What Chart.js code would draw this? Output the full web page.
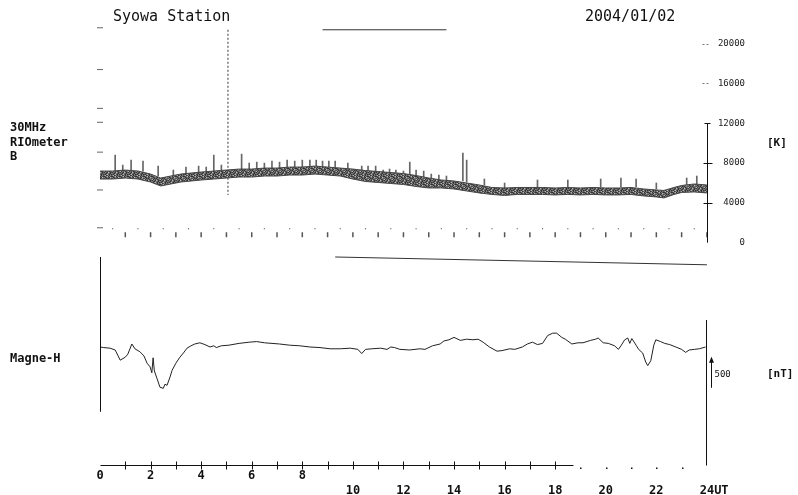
<!DOCTYPE html>
<html>
<head>
<meta charset="utf-8">
<script src="https://cdn.jsdelivr.net/npm/chart.js@4.4.1/dist/chart.umd.min.js"></script>
<style>
  html, body { margin: 0; padding: 0; background: #fff; overflow: hidden; }
</style>
</head>
<body>
<canvas id="myChart" width="798" height="495"></canvas>
<script>
// riometer band (K), read every half hour or so
const rioHours = [0, 0.5, 1, 1.5, 2, 2.4, 2.8, 3.2, 3.6, 4, 4.5, 5, 5.5, 6, 6.5, 7, 7.5, 8, 8.5, 9, 9.5, 10, 10.5, 11, 11.5, 12, 12.5, 13, 13.5, 14, 14.5, 15, 15.5, 16, 16.5, 17, 17.5, 18, 18.5, 19, 19.5, 20, 20.5, 21, 21.5, 22, 22.3, 22.7, 23, 23.5, 24];
const rioUpper = [7200, 7200, 7300, 7200, 6900, 6500, 6700, 6900, 7000, 7100, 7200, 7300, 7400, 7400, 7500, 7500, 7600, 7600, 7700, 7600, 7500, 7400, 7250, 7150, 7050, 6950, 6750, 6500, 6300, 6200, 6000, 5800, 5550, 5500, 5550, 5550, 5550, 5500, 5550, 5500, 5550, 5500, 5500, 5550, 5400, 5300, 5250, 5550, 5750, 5900, 5800];
const rioLower = [6400, 6400, 6500, 6400, 6100, 5700, 5900, 6100, 6200, 6300, 6400, 6500, 6600, 6600, 6700, 6700, 6800, 6800, 6900, 6800, 6700, 6400, 6150, 6050, 5950, 5850, 5650, 5500, 5500, 5400, 5200, 5000, 4850, 4750, 4850, 4850, 4850, 4800, 4850, 4800, 4850, 4800, 4800, 4850, 4700, 4600, 4500, 4850, 5050, 5100, 5000];

// short upward excursions on the riometer trace
const spikeHours = [0.6, 0.9, 1.23, 1.7, 2.3, 2.9, 3.4, 3.9, 4.2, 4.5, 4.8, 5.6, 5.9, 6.2, 6.5, 6.8, 7.1, 7.4, 7.7, 8.0, 8.3, 8.55, 8.8, 9.05, 9.3, 9.8, 10.35, 10.6, 10.9, 11.2, 11.45, 11.7, 12.0, 12.25, 12.5, 12.8, 13.1, 13.4, 13.7, 14.35, 14.5, 15.2, 16.0, 17.3, 18.5, 19.8, 20.6, 21.2, 22.0, 23.2, 23.6];
const spikeBases = [7200, 7200, 7300, 7200, 6700, 6700, 6900, 7000, 7100, 7200, 7300, 7400, 7400, 7400, 7500, 7500, 7500, 7600, 7600, 7600, 7700, 7700, 7700, 7600, 7600, 7500, 7300, 7200, 7100, 7100, 7000, 7000, 6900, 6900, 6700, 6600, 6500, 6400, 6300, 6200, 6100, 5800, 5500, 5600, 5600, 5600, 5600, 5600, 5400, 5800, 5900];
const spikeTops = [8800, 7800, 8300, 8200, 7700, 7300, 7600, 7700, 7600, 8800, 7800, 8900, 8000, 8100, 8000, 8200, 8100, 8300, 8200, 8300, 8300, 8300, 8200, 8200, 8200, 8000, 7700, 7700, 7700, 7300, 7400, 7300, 7200, 8100, 7300, 7200, 6900, 6800, 6700, 9000, 8300, 6400, 6000, 6300, 6300, 6400, 6500, 6400, 6000, 6500, 6700];

// calibration pen stroke near 05 UT
const calHour = 5.06;
const calRange = [21400, 4800];

// trace running along the top edge of the upper panel
const topTraceHours = [8.8, 13.7];
const topTraceValues = [21400, 21400];

// Magne-H, deviation in nT
const magHours = [0, 0.15, 0.4, 0.6, 0.8, 1.0, 1.1, 1.26, 1.38, 1.58, 1.74, 1.86, 1.98, 2.05, 2.1, 2.15, 2.25, 2.37, 2.5, 2.57, 2.65, 2.77, 2.85, 3.0, 3.16, 3.3, 3.44, 3.6, 3.75, 3.95, 4.15, 4.35, 4.5, 4.6, 4.8, 5.1, 5.5, 5.9, 6.2, 6.5, 7.1, 7.5, 7.9, 8.3, 8.7, 9.1, 9.5, 9.9, 10.2, 10.35, 10.5, 10.75, 11.1, 11.35, 11.5, 11.65, 11.86, 12.25, 12.65, 12.85, 13.15, 13.45, 13.6, 13.8, 14.0, 14.25, 14.5, 14.75, 14.95, 15.15, 15.4, 15.7, 15.9, 16.2, 16.4, 16.7, 16.9, 17.1, 17.3, 17.5, 17.7, 17.9, 18.06, 18.26, 18.4, 18.66, 18.9, 19.1, 19.4, 19.6, 19.7, 19.9, 20.1, 20.35, 20.5, 20.6, 20.75, 20.87, 20.95, 21.03, 21.2, 21.3, 21.46, 21.58, 21.66, 21.78, 21.9, 21.98, 22.17, 22.33, 22.53, 22.77, 23.0, 23.16, 23.3, 23.5, 23.7, 23.95];
const magValues = [0, -10, -20, -50, -220, -170, -120, 50, -30, -80, -150, -270, -330, -430, -180, -400, -520, -670, -690, -620, -640, -500, -390, -270, -170, -100, -20, 20, 50, 70, 40, 0, 20, -10, 20, 30, 60, 80, 90, 70, 50, 30, 20, 0, -10, -30, -30, -20, -40, -110, -40, -30, -20, -40, 0, -10, -40, -50, -30, -40, 20, 50, 100, 120, 160, 110, 130, 120, 130, 80, 0, -70, -60, -30, -40, 0, 50, 80, 40, 60, 190, 230, 230, 160, 130, 50, 70, 70, 110, 130, 150, 70, 60, 20, -40, 20, 120, 150, 60, 140, 30, -40, -100, -250, -310, -230, 30, 120, 90, 60, 40, 0, -40, -90, -50, -40, -30, 0];

// trace along the top edge of the lower panel
const magTopHours = [9.3, 24];
const magTopValues = [1500, 1370];

// hour marks along the bottom of the riometer panel
const hourMarkHours = [1, 2, 3, 4, 5, 6, 7, 8, 9, 10, 11, 12, 13, 14, 15, 16, 17, 18, 19, 20, 21, 22, 23, 24];
const halfMarkHours = [0.5, 1.5, 2.5, 3.5, 4.5, 5.5, 6.5, 7.5, 8.5, 9.5, 10.5, 11.5, 12.5, 13.5, 14.5, 15.5, 16.5, 17.5, 18.5, 19.5, 20.5, 21.5, 22.5, 23.5];
const hourMarkLevel = 800;
const halfMarkLevel = 1400;

// dash marks on the left edge of the riometer panel
const leftMarkValues = [21600, 17400, 13500, 12100, 9100, 5300, 1500];

const rioTicks = [0, 4000, 8000, 12000, 16000, 20000];
const scaleBar = { base: -680, size: 500 };

const pts = (xs, ys) => xs.map((h, i) => ({ x: h, y: ys[i] }));

// grainy fill like the pen ink of the recorder
const grainRows = [
  'Dd.lD.dD',
  '.Dd.dDl.',
  'd.DdD..d',
  'lD.d.Dd.',
  'D.dDl.Dd',
  '.dD..dD.',
  'dD.ldD.D',
  '.lDd.D.d'
];
const grainCols = { D: '#333333', d: '#555555', '.': '#7c7c7c', l: '#b8b8b8' };
const tex = document.createElement('canvas');
tex.width = 8; tex.height = 8;
const tctx = tex.getContext('2d');
grainRows.forEach((row, j) => row.split('').forEach((c, i) => {
  tctx.fillStyle = grainCols[c];
  tctx.fillRect(i, j, 1, 1);
}));
const grain = tctx.createPattern(tex, 'repeat');

const MONO = '"DejaVu Sans Mono", "Liberation Mono", monospace';

const decor = {
  id: 'decor',
  afterDatasetsDraw(chart) {
    const { ctx, chartArea: area, scales: { x, yR, yM } } = chart;
    const px = v => Math.round(x.getPixelForValue(v)) + 0.5;
    const b = Math.round(area.bottom) + 0.5;
    ctx.save();
    ctx.strokeStyle = '#111';
    ctx.fillStyle = '#111';
    ctx.lineWidth = 1;

    // time axis
    ctx.beginPath();
    ctx.moveTo(px(0), b); ctx.lineTo(px(18.7), b);
    for (let h = 1; h <= 18; h++) { ctx.moveTo(px(h), b - 4); ctx.lineTo(px(h), b + 4); }
    ctx.stroke();
    for (let h = 19; h <= 23; h++) ctx.fillRect(px(h) - 0.5, b + 2, 1.5, 1.5);

    // riometer scale line and marks
    const X24 = px(24);
    ctx.beginPath();
    ctx.moveTo(X24, yR.getPixelForValue(12000)); ctx.lineTo(X24, yR.getPixelForValue(0));
    [4000, 8000].forEach(v => { const y = Math.round(yR.getPixelForValue(v)) + 0.5; ctx.moveTo(X24 - 4, y); ctx.lineTo(X24 + 5, y); });
    const y12 = Math.round(yR.getPixelForValue(12000)) + 0.5;
    ctx.moveTo(X24 - 3, y12); ctx.lineTo(X24 + 3, y12);
    ctx.stroke();
    ctx.strokeStyle = '#777';
    ctx.beginPath();
    [16000, 20000].forEach(v => { const y = Math.round(yR.getPixelForValue(v)) + 0.5; ctx.moveTo(X24 - 5, y); ctx.lineTo(X24 - 3, y); ctx.moveTo(X24 - 1, y); ctx.lineTo(X24 + 1, y); });
    ctx.stroke();

    // magnetometer frame lines
    ctx.strokeStyle = '#111';
    ctx.beginPath();
    ctx.moveTo(px(0), yM.getPixelForValue(1500)); ctx.lineTo(px(0), yM.getPixelForValue(-1080));
    ctx.moveTo(X24 - 1, yM.getPixelForValue(450)); ctx.lineTo(X24 - 1, b);
    ctx.stroke();

    // 500 nT scale arrow
    const ax = X24 + 4;
    const ya = yM.getPixelForValue(scaleBar.base), yb = yM.getPixelForValue(scaleBar.base + scaleBar.size);
    ctx.beginPath(); ctx.moveTo(ax, ya); ctx.lineTo(ax, yb); ctx.stroke();
    ctx.beginPath(); ctx.moveTo(ax, yb - 1); ctx.lineTo(ax - 2.5, yb + 5); ctx.lineTo(ax + 2.5, yb + 5); ctx.closePath(); ctx.fill();

    // texts
    ctx.textBaseline = 'middle';
    ctx.textAlign = 'left';
    ctx.font = '15px ' + MONO;
    ctx.fillText('Syowa Station', 113, 17);
    ctx.fillText('2004/01/02', 585, 17);
    ctx.font = 'bold 12px ' + MONO;
    ctx.fillText('30MHz', 10, 128);
    ctx.fillText('RIOmeter', 10, 143);
    ctx.fillText('B', 10, 157);
    ctx.fillText('Magne-H', 10, 359);
    ctx.font = 'bold 11px ' + MONO;
    ctx.fillText('[K]', 767, 143);
    ctx.fillText('[nT]', 767, 374);
    ctx.font = '9px ' + MONO;
    ctx.fillText('500', ax + 3, (ya + yb) / 2 + 2);
    ctx.restore();
  }
};

const ctx = document.getElementById('myChart').getContext('2d');
const myChart = new Chart(ctx, {
  type: 'line',
  data: {
    datasets: [
      {
        label: 'rio low',
        data: pts(rioHours, rioLower),
        yAxisID: 'yR',
        borderColor: '#444', borderWidth: 1, pointRadius: 0, fill: false
      },
      {
        label: 'rio high',
        data: pts(rioHours, rioUpper),
        yAxisID: 'yR',
        borderColor: '#444', borderWidth: 1, pointRadius: 0,
        fill: '-1', backgroundColor: grain
      },
      {
        type: 'bar',
        label: 'spikes',
        data: spikeHours.map((h, i) => ({ x: h, y: [spikeBases[i], spikeTops[i]] })),
        yAxisID: 'yR',
        backgroundColor: '#666', barThickness: 1, borderWidth: 0
      },
      {
        label: 'cal',
        data: [{ x: calHour, y: calRange[0] }, { x: calHour, y: calRange[1] }],
        yAxisID: 'yR',
        borderColor: '#333', borderWidth: 1, borderDash: [2, 2], pointRadius: 0
      },
      {
        label: 'top trace',
        data: pts(topTraceHours, topTraceValues),
        yAxisID: 'yR',
        borderColor: '#333', borderWidth: 1, pointRadius: 0
      },
      {
        type: 'scatter',
        label: 'hour marks',
        data: hourMarkHours.map(h => ({ x: h, y: hourMarkLevel })),
        yAxisID: 'yR',
        pointStyle: 'line', rotation: 90, pointRadius: 2.5, borderColor: '#555', borderWidth: 1.5,
        clip: false
      },
      {
        type: 'scatter',
        label: 'half marks',
        data: halfMarkHours.map(h => ({ x: h, y: halfMarkLevel })),
        yAxisID: 'yR',
        pointStyle: 'rect', pointRadius: 0.8, backgroundColor: '#555', borderWidth: 0,
        clip: false
      },
      {
        type: 'scatter',
        label: 'left marks',
        data: leftMarkValues.map(v => ({ x: 0, y: v })),
        yAxisID: 'yR',
        pointStyle: 'line', pointRadius: 3, borderColor: '#666', borderWidth: 1,
        clip: false
      },
      {
        label: 'Magne-H',
        data: pts(magHours, magValues),
        yAxisID: 'yM',
        borderColor: '#222', borderWidth: 1, pointRadius: 0, tension: 0
      },
      {
        label: 'mag top trace',
        data: pts(magTopHours, magTopValues),
        yAxisID: 'yM',
        borderColor: '#333', borderWidth: 1, pointRadius: 0
      }
    ]
  },
  options: {
    responsive: false,
    animation: false,
    events: [],
    layout: { padding: { left: 100, right: 53, top: 11, bottom: 0 } },
    plugins: { legend: { display: false }, tooltip: { enabled: false } },
    scales: {
      x: {
        type: 'linear', min: 0, max: 24, offset: false,
        grid: { display: false, drawTicks: false },
        border: { display: false },
        ticks: {
          stepSize: 1, autoSkip: false, maxRotation: 0, padding: 0,
          color: '#111',
          font: { family: MONO, size: 12, weight: 'bold', lineHeight: '7.5px' },
          callback: v => {
            if (v % 2) return '';
            if (v < 10) return ['', String(v)];
            return ['', '', '', v === 24 ? '  24UT' : String(v)];
          }
        }
      },
      yR: {
        position: 'right',
        min: -22342, max: 23286,
        afterBuildTicks: axis => { axis.ticks = rioTicks.map(v => ({ value: v })); },
        grid: { display: false, drawTicks: false },
        border: { display: false },
        ticks: {
          crossAlign: 'far', padding: 5.5, color: '#222',
          font: { family: MONO, size: 9 },
          callback: v => String(v)
        }
      },
      yM: {
        display: false,
        min: -1967, max: 5600
      }
    }
  },
  plugins: [decor]
});
</script>
</body>
</html>
